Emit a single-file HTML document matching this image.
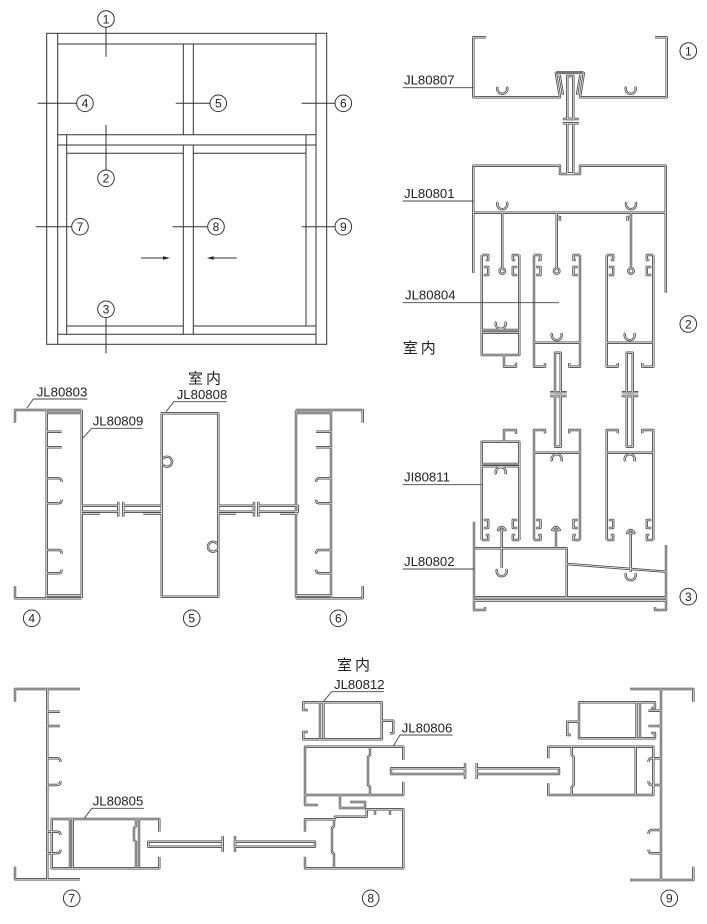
<!DOCTYPE html>
<html><head><meta charset="utf-8"><style>
html,body{margin:0;padding:0;background:#fff;}
svg{display:block;}
text{font-family:"Liberation Sans","Noto Sans CJK SC",sans-serif;fill:#222;}
</style></head><body>
<svg width="707" height="924" viewBox="0 0 707 924" xmlns="http://www.w3.org/2000/svg">
<defs>
<g id="P4">
  <path d="M15,422.7 V410 H81.7 M15,586 V598.3 H81.7 M46.7,410 V598.3 M81.7,410 V598.3 M46.7,413 H81.7 M46.7,595.5 H81.7"/>
  <path d="M46.7,431.7 H61.7 M46.7,447.3 H61.7 M46.7,478.3 H58 Q61.7,478.3 61.7,482 M46.7,503.3 H58 Q61.7,503.3 61.7,499.5 M46.7,550 H58 Q61.7,550 61.7,553.7 M46.7,573.3 H58 Q61.7,573.3 61.7,569.5"/>
</g>
<g id="PR">
  <!-- JL80807 -->
  <path d="M486,37.3 H473.3 V97.3 H560 L555.7,72 M584,72 L580,97.3 H666.7 V37.3 H655"/>
  <path d="M559.5,75 L563,95 M580.3,75 L577,95"/>
  <path d="M497.8,86.7 A5,5 0 1,0 506.8,86.7 M626.2,86.7 A5,5 0 1,0 635.2,86.7"/>
  <rect x="567.3" y="76" width="6" height="43"/>
  <rect x="567.3" y="123.3" width="6" height="50"/>
  <path d="M562.7,119 H579 M562.7,123.3 H579"/>
  <!-- JL80801 -->
  <path d="M473.3,273 V165.7 H560 V174 H580 V165.7 H665.7 V292.7 M473.3,212.7 H665.7"/>
  <path d="M497.8,202 A5,5 0 1,0 506.8,202 M626.5,202 A5,5 0 1,0 635.5,202"/>
  <path d="M502.3,212.7 V268 M556.7,212.7 V268 M631,212.7 V268 M556.7,217 H560 V221 M631,217 H627.5 V221"/>
  <circle cx="502.3" cy="271" r="2.7"/><circle cx="556.7" cy="271" r="2.7"/><circle cx="631" cy="271" r="2.7"/>
  <!-- upper sash A -->
  <path d="M481.7,255 V355 H519.3 V255 M481.7,330 H519.3 M481.7,332.7 H519.3 M504,355 V366.7 H516 V362.5"/>
  <path d="M496.2,321.7 A5,5 0 1,0 505.2,321.7"/>
  <path d="M481.7,255 H488.2 V260 H485.7 M483.7,267 H488.2 V275 H483.7 M519.3,255 H512.8 V260 H515.3 M517.3,267 H512.8 V275 H517.3"/>
  <!-- upper sash B -->
  <path d="M534,255 V366.7 H545 V363 M580,255 V366.7 H569.3 V363 M534,342.7 H580"/>
  <path d="M552.2,333 A5,5 0 1,0 561.2,333"/>
  <path d="M534,255 H540.5 V260 H538 M536,267 H540.5 V275 H536 M580,255 H573.5 V260 H576 M578,267 H573.5 V275 H578"/>
  <rect x="555" y="352.7" width="5.7" height="39.5"/>
  <rect x="555" y="396" width="5.7" height="50.7"/>
  <path d="M550,392.2 H566.7 M550,396 H566.7"/>
  <!-- upper sash C -->
  <path d="M606.7,255 V366.7 H617.7 V363 M653.3,255 V366.7 H642.3 V363 M606.7,342.7 H653.3"/>
  <path d="M625.2,333 A5,5 0 1,0 634.2,333"/>
  <path d="M606.7,255 H613.2 V260 H610.7 M608.7,267 H613.2 V275 H608.7 M653.3,255 H646.8 V260 H649.3 M651.3,267 H646.8 V275 H651.3"/>
  <rect x="626.7" y="352.7" width="6" height="39.5"/>
  <rect x="626.7" y="396" width="6" height="50.7"/>
  <path d="M621.7,392.2 H638.4 M621.7,396 H638.4"/>
  <!-- lower sash A' -->
  <path d="M481.7,540 V441.7 H519.3 V540 M481.7,464 H519.3 M481.7,466.3 H519.3 M504,441.7 V430 H516 V434"/>
  <path d="M496.2,474.3 A5,5 0 1,1 505.2,474.3"/>
  <path d="M481.7,540 H488.2 V535 H485.7 M483.7,528 H488.2 V520 H483.7 M519.3,540 H512.8 V535 H515.3 M517.3,528 H512.8 V520 H517.3"/>
  <!-- lower sash B' -->
  <path d="M534,540 V430 H545 V433.5 M580,540 V430 H569.3 V433.5 M534,452.7 H580"/>
  <path d="M552.2,461.3 A5,5 0 1,1 561.2,461.3"/>
  <path d="M534,540 H540.5 V535 H538 M536,528 H540.5 V520 H536 M580,540 H573.5 V535 H576 M578,528 H573.5 V520 H578"/>
  <!-- lower sash C' -->
  <path d="M606.7,540 V430 H617.7 V433.5 M653.3,540 V430 H642.3 V433.5 M606.7,452.7 H653.3"/>
  <path d="M625.2,461.3 A5,5 0 1,1 634.2,461.3"/>
  <path d="M606.7,540 H613.2 V535 H610.7 M608.7,528 H613.2 V520 H608.7 M653.3,540 H646.8 V535 H649.3 M651.3,528 H646.8 V520 H651.3"/>
  <!-- JL80802 -->
  <path d="M474,521.7 V610 H485 V607 M475,548.3 H566.7 V597.3 M566.7,564 L666,571.7 M475,597.3 H666 M474,600.5 H666 M666,545 V610 H655 V607"/>
  <path d="M501.7,530 V568 M556,530 V548.3 M630.7,533 V572"/>
  <path d="M498,530 Q501.7,524 505.4,530 Z M552.3,530 Q556,524 559.7,530 Z M627,533 Q630.7,527 634.4,533 Z"/>
  <path d="M497.2,569 A5,5 0 1,0 506.2,569 M626.2,573 A5,5 0 1,0 635.2,573"/>
  <!-- section 4/5/6 -->
  <use href="#P4"/>
  <use href="#P4" transform="translate(377.7,0) scale(-1,1)"/>
  <rect x="161.7" y="413.3" width="56.6" height="183.4"/>
  <path d="M162.7,459.2 A5,5 0 1,1 162.7,464.2 M217.3,544.2 A5,5 0 1,0 217.3,549.2"/>
  <rect x="81.7" y="505.7" width="36.6" height="6"/>
  <rect x="123.3" y="505.7" width="38.4" height="6"/>
  <rect x="218.3" y="505.7" width="35.7" height="6"/>
  <rect x="258.3" y="505.7" width="39.4" height="6"/>
  <path d="M118.3,501.7 V516.7 M123.3,501.7 V516.7 M254,501.7 V516.7 M258.3,501.7 V516.7"/>
  <path d="M81.7,513.5 H100 M143.3,513.5 H161.7 M218.3,513.5 H236 M280,513.5 H297.7"/>
  <!-- section 7 -->
  <path d="M15,701.7 V689 H80 M15,866.7 V879.3 H80 M47.3,689 V879.3"/>
  <path d="M47.3,711.7 H60 M47.3,726 H60 M47.3,758.3 H57 Q60.5,758.3 60.5,762 M47.3,785 H57 Q60.5,785 60.5,781 M47.3,831.7 H57 Q60.5,831.7 60.5,835 M47.3,853.3 H57 Q60.5,853.3 60.5,849.5"/>
  <path d="M159.3,831.7 V819 H51.7 V868.3 H159.3 V856.7 M70,819 V868.3 M72.7,819 V868.3 M136,819 V826 L134,828 V840 L136,842 V868.3 M139,819 V868.3"/>
  <rect x="148.3" y="841.7" width="74.4" height="5"/>
  <rect x="235" y="841.7" width="80" height="5"/>
  <path d="M222.7,836 V852 M235,836 V852"/>
  <!-- section 8 -->
  <path d="M320,702.3 H381.7 V739.3 H320 Z M323.5,702.3 V739.3 M320,702.3 H303.3 V710 H308 M320,739.3 H303.3 V732 H308 M381.7,720.7 H393.3 V733.3 H390"/>
  <path d="M403.3,760 V746.7 H305 V795 H340 M305,795 V805 H318 M340,795 H403.3 V781.7 M370,746.7 V755 L368,757 V785 L370,787 V795"/>
  <path d="M340,795 V808 H365 V802 H350"/>
  <path d="M305,831.7 V819.3 H335 V816.7 H366.7 V809.3 H403.3 V868.3 H305 V856.7 M334,819.3 V826 L332,828 V852 L334,854 V868.3 M375,809.3 V815 M390,809.3 V815"/>
  <rect x="391" y="768.3" width="74" height="5.7"/>
  <rect x="476.7" y="768.3" width="82.3" height="5.7"/>
  <path d="M465,763 V779 M476.7,763 V779"/>
  <!-- section 9 -->
  <path d="M661,689 V880 M630,689 H693.3 V701.7 M630,880 H693.3 V866.7"/>
  <path d="M661,710.7 H648.3 M661,726 H648.3 M661,758.3 H652 Q648.5,758.3 648.5,762 M661,785 H652 Q648.5,785 648.5,781 M661,830 H652 Q648.5,830 648.5,834 M661,853.3 H652 Q648.5,853.3 648.5,849.5"/>
  <path d="M579,702.3 H640 V738.3 H579 Z M636.5,702.3 V738.3 M640,702.3 H655 V708 H651 M640,738.3 H655 V733 H651 M579,721.7 H567.3 V735 H571"/>
  <path d="M548.3,758.3 V746.7 H653.3 V795 H548.3 V783.3 M571.7,746.7 V755 L573.7,757 V785 L571.7,787 V795 M635.7,746.7 V795"/>
</g>
</defs>

<!-- profiles: double-wall effect -->
<g fill="none" stroke-linejoin="round">
  <use href="#PR" stroke="#4a4a4a" stroke-width="2.4"/>
  <use href="#PR" stroke="#ffffff" stroke-width="0.7"/>
</g>
<rect x="556" y="71" width="27.5" height="3.2" fill="#777"/>

<!-- Elevation -->
<g fill="none" stroke="#333" stroke-width="1">
  <rect x="46.7" y="33.3" width="280" height="311"/>
  <path d="M57.7,33.3 V344.3 M316,33.3 V344.3 M57.7,44 H316 M183.3,44 V134.7 M193.3,44 V134.7 M57.7,134.7 H316 M57.7,145 H316 M66.7,153.3 H183.3 M193.3,153.3 H306 M183.3,145 V334.3 M193.3,145 V334.3 M66.7,134.7 V334.3 M306,134.7 V326 M66.7,326 H183.3 M193.3,326 H316 M57.7,334.3 H316"/>
  <path d="M106,27.3 V56.7 M106,125 V170 M106,317.6 V353.3 M37.7,103.3 H76.7 M175.7,103.3 H210 M301.7,103.3 H335 M35.7,226.7 H71.7 M172.7,226.7 H207.7 M301.7,226.7 H335 M141,258 H165 M236.7,258 H212"/>
</g>
<path d="M170,258 L163,256.3 L163,259.7 Z M206.7,258 L213.7,256.3 L213.7,259.7 Z" fill="#222"/>

<!-- circled numbers -->
<g fill="#fff" stroke="#333" stroke-width="1">
  <circle cx="106" cy="19" r="8.3"/><circle cx="85" cy="103.3" r="8.3"/><circle cx="218.3" cy="103.3" r="8.3"/><circle cx="343.3" cy="103.3" r="8.3"/>
  <circle cx="106" cy="178.3" r="8.3"/><circle cx="80" cy="226.7" r="8.3"/><circle cx="216" cy="226.7" r="8.3"/><circle cx="343.3" cy="226.7" r="8.3"/>
  <circle cx="106" cy="309.3" r="8.3"/>
  <circle cx="688.3" cy="51" r="8.3"/><circle cx="688.3" cy="324" r="8.3"/><circle cx="688.3" cy="596.7" r="8.3"/>
  <circle cx="31.7" cy="618.3" r="8.3"/><circle cx="191.7" cy="618.3" r="8.3"/><circle cx="338.3" cy="618.3" r="8.3"/>
  <circle cx="71.7" cy="898.3" r="8.3"/><circle cx="370.7" cy="898.3" r="8.3"/><circle cx="669.3" cy="898.3" r="8.3"/>
</g>
<g font-size="12" text-anchor="middle">
  <text x="106" y="23.3">1</text><text x="85" y="107.6">4</text><text x="218.3" y="107.6">5</text><text x="343.3" y="107.6">6</text>
  <text x="106" y="182.6">2</text><text x="80" y="231">7</text><text x="216" y="231">8</text><text x="343.3" y="231">9</text>
  <text x="106" y="313.6">3</text>
  <text x="688.3" y="55.3">1</text><text x="688.3" y="328.3">2</text><text x="688.3" y="601">3</text>
  <text x="31.7" y="622.6">4</text><text x="191.7" y="622.6">5</text><text x="338.3" y="622.6">6</text>
  <text x="71.7" y="902.6">7</text><text x="370.7" y="902.6">8</text><text x="669.3" y="902.6">9</text>
</g>

<!-- leaders -->
<g fill="none" stroke="#444" stroke-width="0.9">
  <path d="M402.7,87.7 H473.3 M402.7,201 H473.3 M402.7,302.7 H559 M402.7,484.7 H481.7 M402.7,569 H474"/>
  <path d="M33.3,399 H87.3 M33.3,399 L26.7,408.3 M91.7,428.3 H142.7 M91.7,428.3 L82.7,438.3 M174,401.7 H226.7 M174,401.7 L166,411.7"/>
  <path d="M91.7,808.3 H144 M91.7,808.3 L84.3,818.3 M331.7,691.7 H384 M331.7,691.7 L323.3,701.7 M400,735 H452.7 M400,735 L393.3,746"/>
</g>

<!-- labels -->
<g font-size="13.2">
  <text x="404" y="84.3">JL80807</text>
  <text x="404" y="198">JL80801</text>
  <text x="405" y="299.5">JL80804</text>
  <text x="404" y="481.5">JI80811</text>
  <text x="404" y="566">JL80802</text>
  <text x="36.7" y="396.5">JL80803</text>
  <text x="92.7" y="425.7">JL80809</text>
  <text x="176.7" y="398.8">JL80808</text>
  <text x="92.7" y="805.5">JL80805</text>
  <text x="334" y="689">JL80812</text>
  <text x="401.7" y="732.3">JL80806</text>
</g>
<g font-size="15" letter-spacing="3">
  <text x="402.7" y="353">室内</text>
  <text x="188" y="383.5">室内</text>
  <text x="337" y="670">室内</text>
</g>
</svg>
</body></html>
